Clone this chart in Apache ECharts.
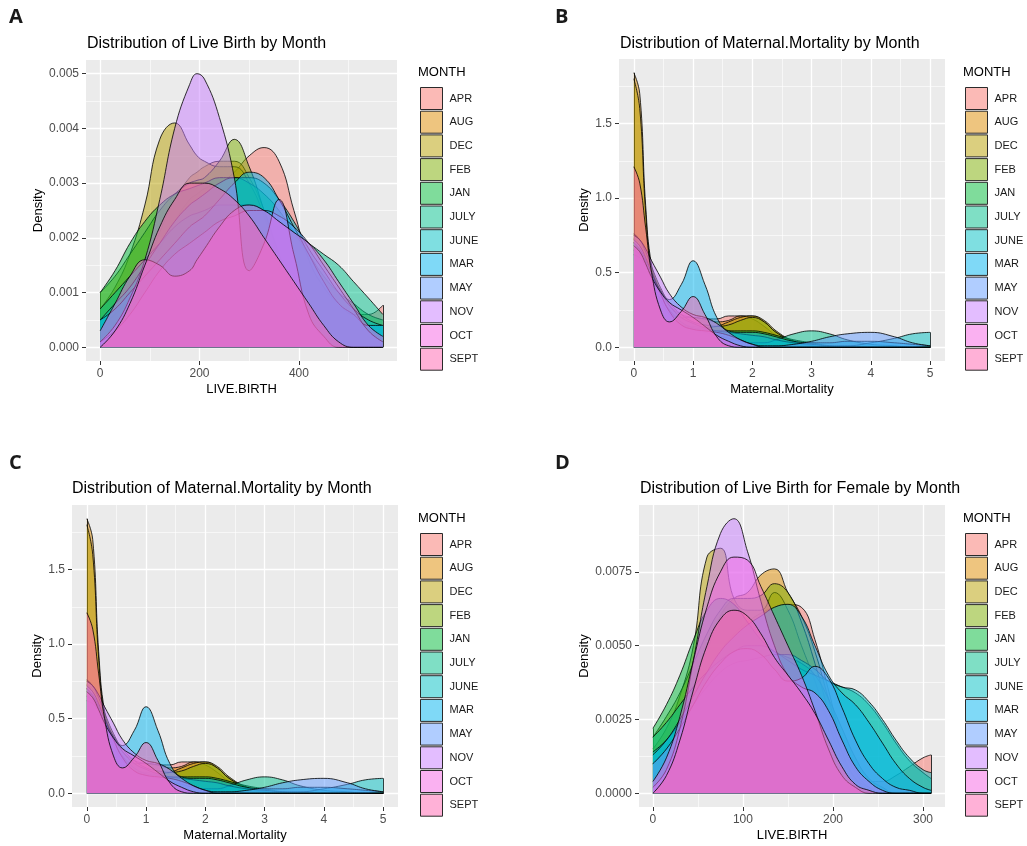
<!DOCTYPE html>
<html><head><meta charset="utf-8">
<script src="https://cdn.jsdelivr.net/npm/echarts@6/dist/echarts.min.js"></script>
<style>html,body{margin:0;padding:0;background:#fff}#c{width:1027px;height:846px}</style>
</head><body><div id="c"></div>
<script>
// ---------- categories ----------
const months = ['APR','AUG','DEC','FEB','JAN','JULY','JUNE','MAR','MAY','NOV','OCT','SEPT'];
const monthColors = ['#F8766D','#DE8C00','#B79F00','#7CAE00','#00BA38','#00C08B','#00BFC4','#00B4F0','#619CFF','#C77CFF','#F564E3','#FF64B0'];

// ---------- Panel A: Live Birth density ----------
const LB_X = [0,30,60,90,120,150,180,195,210,240,270,300,330,360,390,420,450,480,510,540,569];
const LB_APR  = [0.0004,0.0006,0.0009,0.0013,0.0018,0.0023,0.0027,0.0028,0.0029,0.0030,0.0032,0.0035,0.00365,0.0034,0.0025,0.0016,0.0011,0.0008,0.0006,0.0006,0.00077];
const LB_AUG  = [0.0002,0.0004,0.0008,0.0014,0.0021,0.0027,0.0031,0.0032,0.0033,0.0034,0.0034,0.0031,0.0025,0.0017,0.0010,0.0005,0.0002,0.0001,0,0,0];
const LB_DEC  = [0.0007,0.0011,0.0017,0.0026,0.0038,0.0041,0.0037,0.0035,0.0034,0.0033,0.0033,0.0030,0.0024,0.0016,0.0009,0.0004,0.0002,0.0001,0,0,0];
const LB_FEB  = [0.0010,0.0013,0.0017,0.0021,0.0025,0.0028,0.0030,0.00305,0.0031,0.0034,0.0038,0.0033,0.0025,0.0017,0.0010,0.0005,0.0002,0.0001,0,0,0];
const LB_JAN  = [0.0010,0.0014,0.0019,0.0023,0.0026,0.0028,0.0029,0.00295,0.0030,0.0031,0.0031,0.0030,0.0028,0.0025,0.0021,0.0017,0.0013,0.0010,0.0008,0.0006,0.0005];
const LB_JULY = [0.0007,0.0010,0.0013,0.0016,0.0019,0.0022,0.0024,0.00245,0.0025,0.0026,0.0026,0.0026,0.0025,0.0023,0.0021,0.0019,0.0017,0.0015,0.0012,0.0009,0.0006];
const LB_JUNE = [0.0005,0.0008,0.0011,0.0015,0.0019,0.0023,0.0026,0.0027,0.0028,0.0030,0.0031,0.0031,0.0030,0.0027,0.0023,0.0018,0.0014,0.0010,0.0007,0.0005,0.0004];
const LB_MAR  = [0.0005,0.0007,0.0010,0.0013,0.0016,0.0019,0.0022,0.0023,0.0024,0.0027,0.0030,0.0032,0.0031,0.0027,0.0022,0.0017,0.0012,0.0008,0.0006,0.0004,0.0004];
const LB_MAY  = [0.0001,0.0003,0.0006,0.0010,0.0014,0.0017,0.0019,0.0020,0.0021,0.0023,0.0024,0.0025,0.0025,0.0024,0.0022,0.0019,0.0015,0.0011,0.0007,0.0003,0.0001];
const LB_NOV  = [0.0001,0.0004,0.0009,0.0016,0.0027,0.0040,0.0048,0.0050,0.0049,0.0042,0.0031,0.0014,0.0019,0.0027,0.0017,0.0006,0.0002,0,0,0,0];
const LB_OCT  = [0.0003,0.0008,0.0013,0.0016,0.0015,0.0013,0.0014,0.0016,0.0018,0.0022,0.0025,0.0026,0.0025,0.0023,0.0021,0.0019,0.0016,0.0012,0.0008,0.0004,0.0002];
const LB_SEPT = [0,0.0003,0.0008,0.0015,0.0022,0.0027,0.0030,0.0030,0.0030,0.0029,0.0027,0.0024,0.0020,0.0016,0.0012,0.0008,0.0004,0.0001,0,0,0];
const LB_X_TICKS = [0,200,400];
const LB_X_MINOR = [100,300,500];
const LB_Y_TICKS = [0,0.001,0.002,0.003,0.004,0.005];
const LB_Y_MINOR = [0.0005,0.0015,0.0025,0.0035,0.0045];

// ---------- Panels B & C: Maternal Mortality density ----------
const MM_X = [0,0.1,0.2,0.3,0.45,0.6,0.8,1.0,1.2,1.4,1.6,1.8,2.0,2.2,2.4,2.7,3.0,3.3,3.6,4.0,4.4,4.7,5.0];
const MM_APR  = [0.73,0.70,0.62,0.52,0.38,0.28,0.22,0.20,0.19,0.19,0.21,0.21,0.19,0.14,0.08,0.03,0.01,0,0,0,0,0,0];
const MM_AUG  = [1.84,1.70,0.95,0.55,0.35,0.25,0.20,0.20,0.19,0.17,0.18,0.21,0.21,0.17,0.10,0.04,0.01,0,0,0,0,0,0];
const MM_DEC  = [1.80,1.60,0.90,0.52,0.30,0.20,0.15,0.14,0.13,0.14,0.17,0.20,0.21,0.18,0.11,0.04,0.01,0,0,0,0,0,0];
const MM_FEB  = [0.76,0.72,0.64,0.54,0.40,0.30,0.22,0.17,0.15,0.14,0.15,0.18,0.20,0.17,0.10,0.04,0.01,0,0,0,0,0,0];
const MM_JAN  = [0.70,0.66,0.58,0.48,0.35,0.25,0.17,0.13,0.12,0.11,0.11,0.11,0.11,0.10,0.08,0.05,0.03,0.01,0,0,0,0,0];
const MM_JULY = [0.65,0.62,0.55,0.45,0.32,0.22,0.15,0.12,0.10,0.08,0.06,0.04,0.03,0.03,0.05,0.09,0.11,0.09,0.05,0.02,0.01,0,0];
const MM_JUNE = [0.62,0.60,0.55,0.48,0.38,0.28,0.20,0.16,0.13,0.11,0.10,0.09,0.08,0.07,0.05,0.03,0.02,0.01,0.01,0.03,0.06,0.09,0.10];
const MM_MAR  = [0.70,0.65,0.58,0.50,0.38,0.32,0.42,0.58,0.42,0.20,0.11,0.10,0.10,0.09,0.07,0.04,0.03,0.03,0.04,0.04,0.03,0.02,0.01];
const MM_MAY  = [0.72,0.68,0.60,0.50,0.36,0.24,0.15,0.12,0.11,0.10,0.08,0.05,0.02,0.01,0.01,0.02,0.04,0.07,0.09,0.10,0.07,0.03,0.01];
const MM_NOV  = [0.75,0.72,0.66,0.58,0.47,0.36,0.27,0.22,0.20,0.16,0.10,0.05,0.02,0,0,0,0,0,0,0,0,0,0];
const MM_OCT  = [0.68,0.64,0.56,0.47,0.37,0.30,0.25,0.20,0.14,0.08,0.04,0.01,0,0,0,0,0,0,0,0,0,0,0];
const MM_SEPT = [1.21,1.10,0.80,0.50,0.25,0.17,0.24,0.34,0.22,0.07,0.01,0,0,0,0,0,0,0,0,0,0,0,0];
const MM_X_TICKS = [0,1,2,3,4,5];
const MM_X_MINOR = [0.5,1.5,2.5,3.5,4.5];
const MM_Y_TICKS = [0,0.5,1,1.5];
const MM_Y_MINOR = [0.25,0.75,1.25,1.75];

// ---------- Panel D: Live Birth for Female density ----------
const LF_X = [0,15,30,45,60,75,90,105,120,135,150,165,180,195,210,225,240,255,270,285,300,309];
const LF_APR  = [0.0010,0.0015,0.0022,0.0031,0.0040,0.0048,0.0054,0.0058,0.0061,0.0063,0.0064,0.0063,0.0052,0.0035,0.0018,0.0008,0.0004,0.0004,0.0006,0.0009,0.0012,0.0013];
const LF_AUG  = [0.0010,0.0016,0.0025,0.0036,0.0048,0.0060,0.0066,0.0068,0.0074,0.0076,0.0068,0.0060,0.0048,0.0032,0.0017,0.0007,0.0002,0,0,0,0,0];
const LF_DEC  = [0.0015,0.0022,0.0033,0.0050,0.0080,0.0083,0.0066,0.0062,0.0062,0.0068,0.0062,0.0050,0.0038,0.0024,0.0012,0.0005,0.0002,0,0,0,0,0];
const LF_FEB  = [0.0019,0.0026,0.0034,0.0044,0.0054,0.0062,0.0066,0.0066,0.0067,0.0071,0.0068,0.0058,0.0044,0.0028,0.0014,0.0005,0.0001,0,0,0,0,0];
const LF_JAN  = [0.0022,0.0030,0.0040,0.0052,0.0062,0.0066,0.0064,0.0058,0.0052,0.0048,0.0046,0.0044,0.0040,0.0032,0.0022,0.0012,0.0005,0.0002,0,0,0,0];
const LF_JULY = [0.0019,0.0024,0.0030,0.0036,0.0041,0.0045,0.0048,0.0050,0.0050,0.0048,0.0045,0.0042,0.0040,0.0038,0.0036,0.0034,0.0030,0.0024,0.0017,0.0011,0.0007,0.0005];
const LF_JUNE = [0.0014,0.0018,0.0024,0.0030,0.0036,0.0041,0.0044,0.0045,0.0046,0.0047,0.0047,0.0045,0.0042,0.0038,0.0036,0.0035,0.0031,0.0025,0.0018,0.0012,0.0008,0.0007];
const LF_MAR  = [0.0013,0.0018,0.0025,0.0033,0.0041,0.0048,0.0053,0.0057,0.0060,0.0063,0.0064,0.0060,0.0050,0.0040,0.0034,0.0030,0.0024,0.0017,0.0010,0.0005,0.0002,0.0001];
const LF_MAY  = [0.0010,0.0015,0.0022,0.0030,0.0038,0.0044,0.0048,0.0049,0.0047,0.0042,0.0038,0.0039,0.0043,0.0039,0.0029,0.0018,0.0010,0.0005,0.0002,0.0001,0,0];
const LF_NOV  = [0.0002,0.0008,0.0022,0.0045,0.0070,0.0088,0.0093,0.0082,0.0065,0.0050,0.0040,0.0036,0.0034,0.0028,0.0018,0.0009,0.0004,0.0001,0,0,0,0];
const LF_OCT  = [0.0004,0.0012,0.0026,0.0045,0.0063,0.0075,0.0080,0.0079,0.0070,0.0060,0.0050,0.0040,0.0028,0.0015,0.0006,0.0002,0,0,0,0,0,0];
const LF_SEPT = [0,0.0006,0.0018,0.0035,0.0050,0.0059,0.0062,0.0060,0.0054,0.0046,0.0040,0.0034,0.0027,0.0018,0.0009,0.0003,0.0001,0,0,0,0,0];
const LF_X_TICKS = [0,100,200,300];
const LF_X_MINOR = [50,150,250];
const LF_Y_TICKS = [0,0.0025,0.005,0.0075];
const LF_Y_MINOR = [0.00125,0.00375,0.00625,0.00875];

const LB_ALL = [LB_APR,LB_AUG,LB_DEC,LB_FEB,LB_JAN,LB_JULY,LB_JUNE,LB_MAR,LB_MAY,LB_NOV,LB_OCT,LB_SEPT];
const MM_ALL = [MM_APR,MM_AUG,MM_DEC,MM_FEB,MM_JAN,MM_JULY,MM_JUNE,MM_MAR,MM_MAY,MM_NOV,MM_OCT,MM_SEPT];
const LF_ALL = [LF_APR,LF_AUG,LF_DEC,LF_FEB,LF_JAN,LF_JULY,LF_JUNE,LF_MAR,LF_MAY,LF_NOV,LF_OCT,LF_SEPT];

// ---------- layout ----------
const FF = '"Liberation Sans", Arial, Helvetica, sans-serif';
const panels = [
  {letter:'A', title:'Distribution of Live Birth by Month', xName:'LIVE.BIRTH', xs:LB_X, ys:LB_ALL,
   xT:LB_X_TICKS, xM:LB_X_MINOR, yT:LB_Y_TICKS, yM:LB_Y_MINOR, yDec:3,
   grid:{left:86, top:60, width:311, height:301}, yGap:41, letterPos:[9,7], titlePos:[87,36], legPos:[420,87]},
  {letter:'B', title:'Distribution of Maternal.Mortality by Month', xName:'Maternal.Mortality', xs:MM_X, ys:MM_ALL,
   xT:MM_X_TICKS, xM:MM_X_MINOR, yT:MM_Y_TICKS, yM:MM_Y_MINOR, yDec:1,
   grid:{left:619, top:59, width:326, height:302}, yGap:28, letterPos:[555,7], titlePos:[620,36], legPos:[965,87]},
  {letter:'C', title:'Distribution of Maternal.Mortality by Month', xName:'Maternal.Mortality', xs:MM_X, ys:MM_ALL,
   xT:MM_X_TICKS, xM:MM_X_MINOR, yT:MM_Y_TICKS, yM:MM_Y_MINOR, yDec:1,
   grid:{left:72, top:505, width:326, height:302}, yGap:28, letterPos:[9,453], titlePos:[72,481], legPos:[420,533]},
  {letter:'D', title:'Distribution of Live Birth for Female by Month', xName:'LIVE.BIRTH', xs:LF_X, ys:LF_ALL,
   xT:LF_X_TICKS, xM:LF_X_MINOR, yT:LF_Y_TICKS, yM:LF_Y_MINOR, yDec:4,
   grid:{left:639, top:505, width:306, height:302}, yGap:44, letterPos:[555,453], titlePos:[640,481], legPos:[965,533]}
];

function rgba(hex, a){ const n = parseInt(hex.slice(1),16); return 'rgba('+(n>>16)+','+((n>>8)&255)+','+(n&255)+','+a+')'; }

const option = {animation:false, backgroundColor:'#ffffff', title:[], legend:[], grid:[], xAxis:[], yAxis:[], series:[]};

panels.forEach((p, gi) => {
  const ymaxD = Math.max(...p.ys.map(a => Math.max(...a)));
  const x0 = p.xs[0], xN = p.xs[p.xs.length-1], xr = xN - x0;
  const xmin = x0 - 0.05*xr, xmax = xN + 0.05*xr;
  const ymin = -0.05*ymaxD, ymax = 1.05*ymaxD;

  option.grid.push(Object.assign({show:true, backgroundColor:'#EBEBEB', borderWidth:0}, p.grid));

  option.xAxis.push({
    type:'value', gridIndex:gi, min:xmin, max:xmax, position:'bottom',
    name:p.xName, nameLocation:'middle', nameGap:22,
    nameTextStyle:{fontFamily:FF, fontSize:13, color:'#000'},
    axisLine:{show:false, onZero:false},
    axisTick:{show:true, length:4, lineStyle:{color:'#333', width:1}, customValues:p.xT},
    axisLabel:{show:true, customValues:p.xT, formatter:v => String(v), fontFamily:FF, fontSize:12, color:'#4D4D4D', margin:7},
    splitLine:{show:true, lineStyle:{color:'#ffffff', width:1.3}}
  });
  option.xAxis.push({
    type:'value', gridIndex:gi, min:xmin, max:xmax, position:'top',
    axisLine:{show:false, onZero:false}, axisTick:{show:false, customValues:p.xM}, axisLabel:{show:false},
    splitLine:{show:true, lineStyle:{color:'#ffffff', width:0.6}}
  });
  option.yAxis.push({
    type:'value', gridIndex:gi, min:ymin, max:ymax, position:'left',
    name:'Density', nameLocation:'middle', nameGap:p.yGap, nameRotate:90,
    nameTextStyle:{fontFamily:FF, fontSize:13, color:'#000'},
    axisLine:{show:false, onZero:false},
    axisTick:{show:true, length:4, lineStyle:{color:'#333', width:1}, customValues:p.yT},
    axisLabel:{show:true, customValues:p.yT, formatter:v => v.toFixed(p.yDec), fontFamily:FF, fontSize:12, color:'#4D4D4D', margin:7},
    splitLine:{show:true, lineStyle:{color:'#ffffff', width:1.3}}
  });
  option.yAxis.push({
    type:'value', gridIndex:gi, min:ymin, max:ymax, position:'right',
    axisLine:{show:false, onZero:false}, axisTick:{show:false, customValues:p.yM}, axisLabel:{show:false},
    splitLine:{show:true, lineStyle:{color:'#ffffff', width:0.6}}
  });

  const startMax = Math.max(...p.ys.map(a => a[0]));
  const endMax = Math.max(...p.ys.map(a => a[a.length-1]));

  p.ys.forEach((vals, k) => {
    const s = {
      type:'line', name:months[k], xAxisIndex:gi*2, yAxisIndex:gi*2,
      data:p.xs.map((x,i) => [x, vals[i]]),
      smooth:0.45, symbol:'none', showSymbol:false, silent:true,
      z:3 + k,
      lineStyle:{color:'#000', width:0.8},
      itemStyle:{color:monthColors[k]},
      areaStyle:{color:monthColors[k], opacity:0.5, origin:'auto'},
      emphasis:{disabled:true}
    };
    if (k === p.ys.length-1) {
      s.markLine = {silent:true, symbol:'none', animation:false, label:{show:false},
        lineStyle:{color:'#000', width:0.8, type:'solid'},
        data:[
          [{coord:[x0,0]},{coord:[xN,0]}],
          [{coord:[x0,0]},{coord:[x0,startMax]}],
          [{coord:[xN,0]},{coord:[xN,endMax]}]
        ]};
    }
    option.series.push(s);
  });

  option.title.push({text:p.letter, left:p.letterPos[0], top:p.letterPos[1], padding:0,
    textStyle:{fontFamily:'"Open Sans", "DejaVu Sans", sans-serif', fontWeight:'bold', fontSize:20, color:'#1A1A1A'}});
  option.title.push({text:p.title, left:p.titlePos[0], top:p.titlePos[1], padding:0,
    textStyle:{fontFamily:FF, fontWeight:'normal', fontSize:16, color:'#000'}});
  option.title.push({text:'MONTH', left:p.legPos[0]-2, top:p.legPos[1]-21, padding:0,
    textStyle:{fontFamily:FF, fontWeight:'normal', fontSize:13, color:'#000'}});

  option.legend.push({
    orient:'vertical', left:p.legPos[0], top:p.legPos[1], padding:0,
    itemWidth:22, itemHeight:22, itemGap:0.7, icon:'rect', selectedMode:false,
    textStyle:{fontFamily:FF, fontSize:11, color:'#1A1A1A', padding:[0,0,0,2]},
    data:months.map((m,k) => ({name:m, itemStyle:{color:rgba(monthColors[k],0.5), borderColor:'#2a2a2a', borderWidth:1}}))
  });
});

const chart = echarts.init(document.getElementById('c'), null, {renderer:'canvas', width:1027, height:846});
chart.setOption(option);
</script>
</body></html>
